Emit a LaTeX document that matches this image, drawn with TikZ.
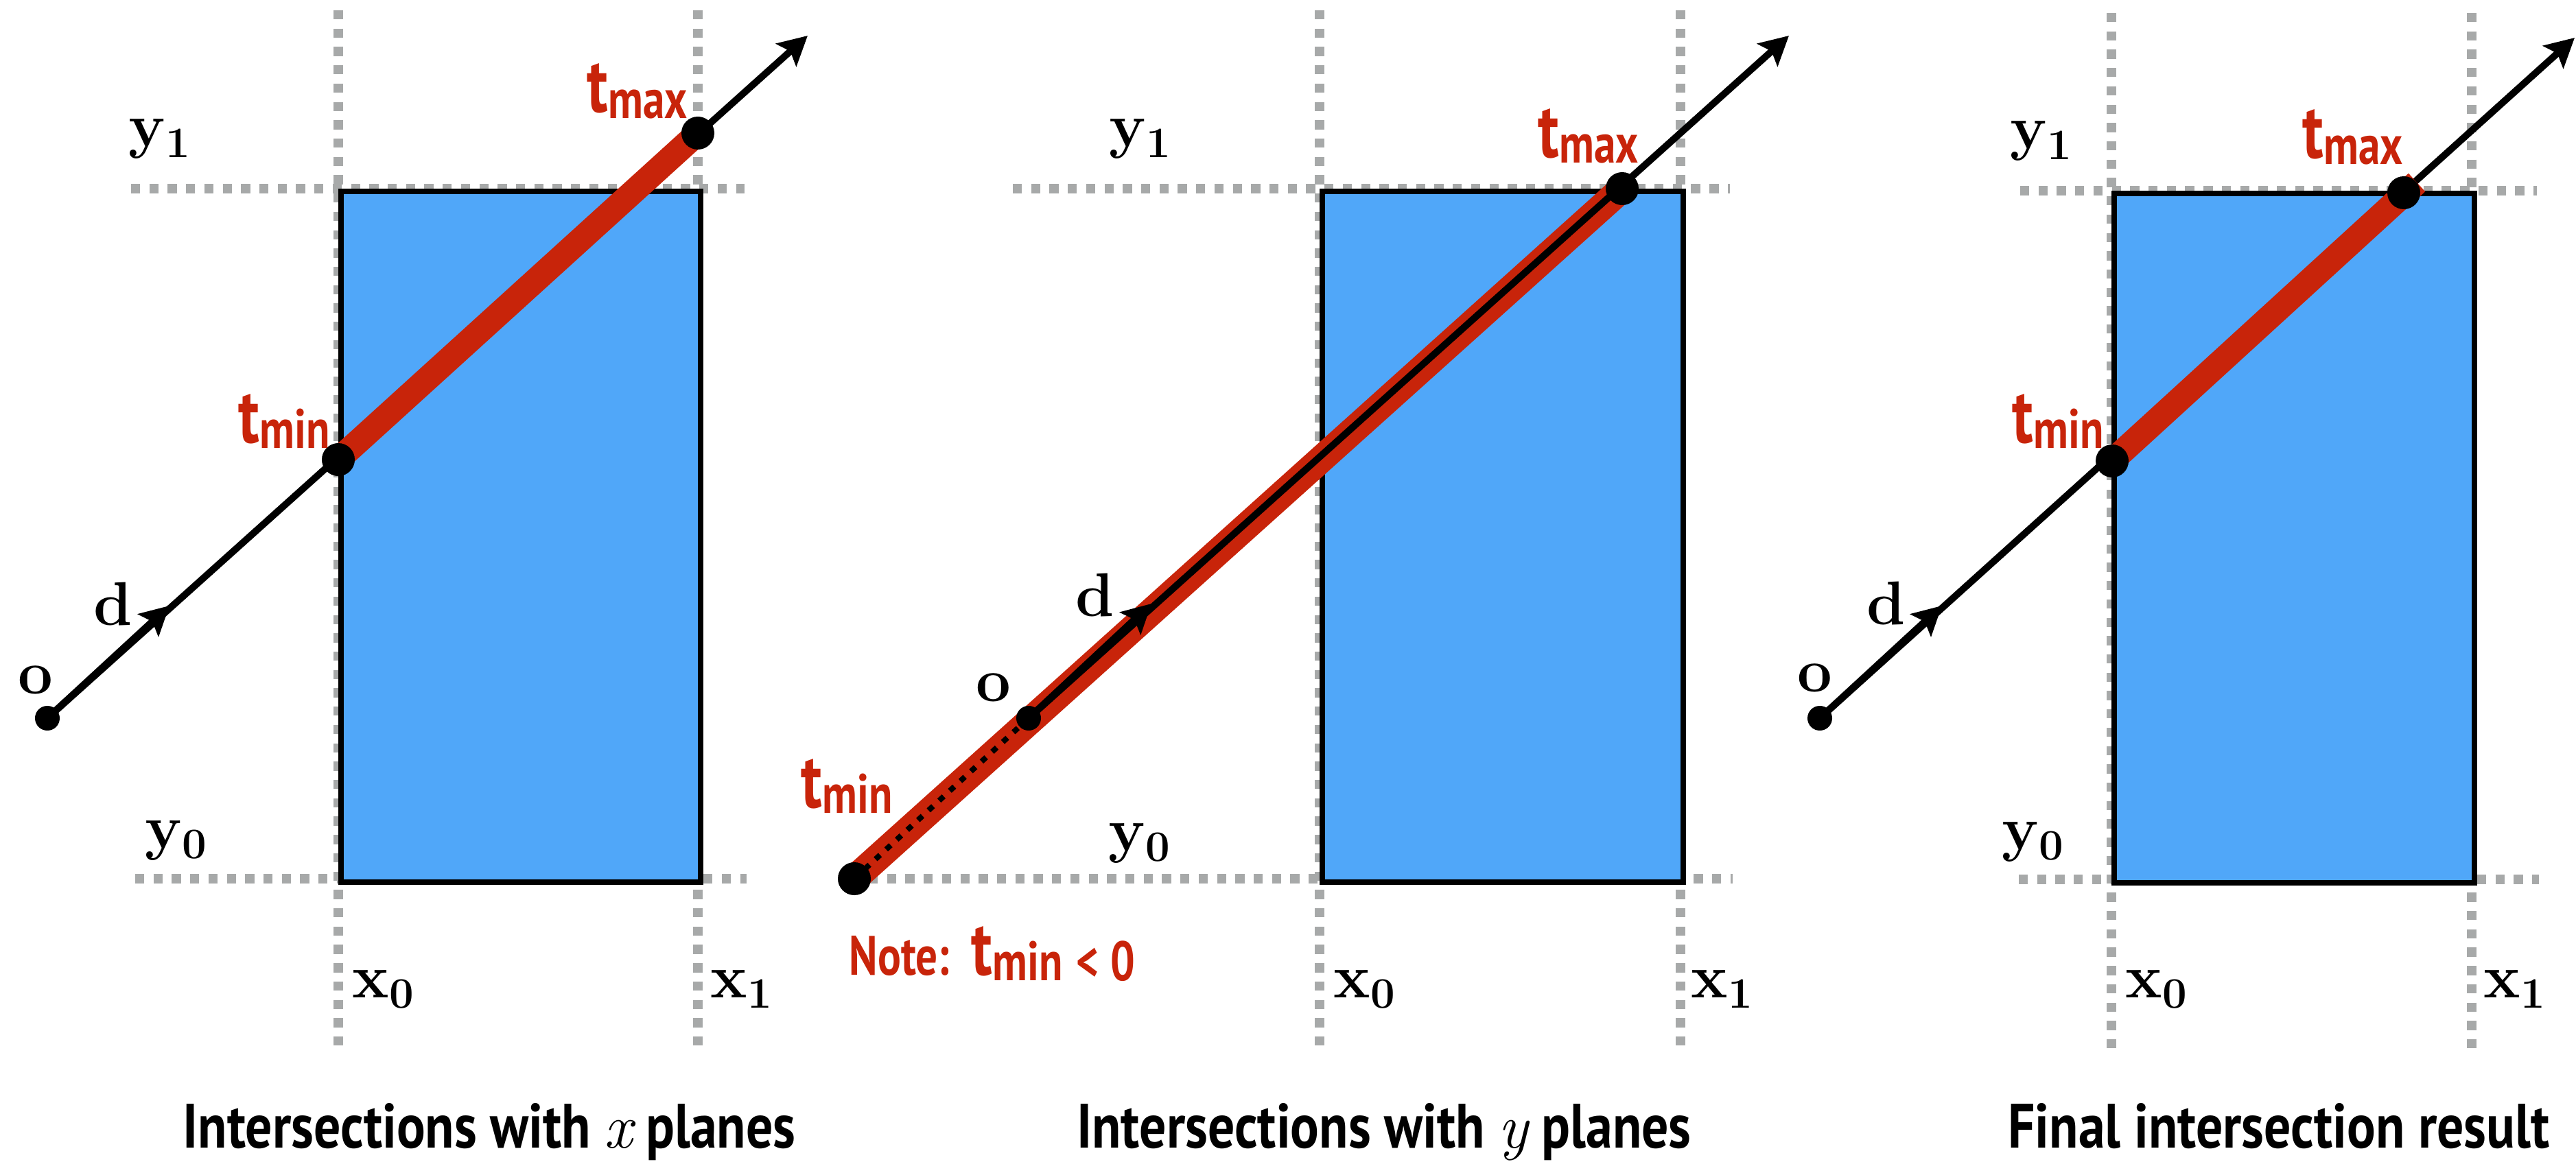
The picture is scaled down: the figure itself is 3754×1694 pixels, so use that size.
\documentclass[tikz,border=0pt]{standalone}
\usepackage{fontspec}
\usetikzlibrary{arrows.meta}
\newfontfamily\myr[FakeStretch=0.78]{PT Sans}
\newfontfamily\myt[FakeStretch=0.85]{PT Sans}
\definecolor{boxblue}{RGB}{80,167,249}
\definecolor{tred}{RGB}{200,36,10}
\definecolor{gridgray}{RGB}{167,169,169}
\newcommand\tsub[1]{{\fontsize{32pt}{32pt}\selectfont t}\raisebox{-0.08cm}{\fontsize{23pt}{23pt}\selectfont #1}}
\newcommand\sv[2]{\bfseries #1\raisebox{-0.15cm}{\fontsize{18pt}{18pt}\selectfont #2}}
\begin{document}
\begin{tikzpicture}[x=0.01cm,y=-0.01cm,
 gridline/.style={draw=gridgray,line width=0.133cm,dash pattern=on 0.133cm off 0.134cm},
 boxstyle/.style={fill=boxblue,draw=black,line width=0.08cm},
 ray/.style={draw=black,line width=0.1cm,-{Stealth[length=0.42cm,width=0.44cm,inset=0.08cm]}},
 raydots/.style={draw=black,line width=0.08cm,dash pattern=on 0.09cm off 0.12cm},
 band/.style={draw=tred,line width=0.36cm},
 bigdot/.style={circle,fill=black,inner sep=0pt,minimum size=0.48cm},
 smalldot/.style={circle,fill=black,inner sep=0pt,minimum size=0.36cm},
 serif/.style={font=\fontsize{25.6pt}{26pt}\selectfont,inner sep=0pt,anchor=base west},
 tlab/.style={text=tred,font=\myr\bfseries,inner sep=0pt,anchor=base west},
 title/.style={font=\myt\bfseries\fontsize{26pt}{26pt}\selectfont,inner sep=0pt,anchor=base}
]
\useasboundingbox (0,0) rectangle (3754,1694);

% ================= Panel 1 =================
\draw[gridline] (493,15) -- (493,1536);
\draw[gridline] (1017,15) -- (1017,1536);
\draw[gridline] (191,275) -- (1085,275);
\draw[gridline] (197,1281) -- (1088,1281);
\node[boxstyle,inner sep=0pt,minimum width=5.24cm,minimum height=10.06cm,anchor=north west] (box1) at (493,275) {};
\coordinate (o1) at (69,1047);
\coordinate (tmin1) at (493,670);
\coordinate (tmax1) at (1017,194);
\coordinate (tip1) at (1177,52);
\coordinate (dtip1) at (247,883);
\draw[ray] (o1) -- (tip1);
\draw[ray] (o1) -- (dtip1);
\draw[band] (tmin1) -- (tmax1);
\node[smalldot] (od1) at (o1) {};
\node[bigdot] (tmind1) at (tmin1) {};
\node[bigdot] (tmaxd1) at (tmax1) {};
\node[serif] (y1a) at (187,214) {\sv{y}{1}};
\node[serif] (y0a) at (211,1236) {\sv{y}{0}};
\node[serif] (x0a) at (513,1454) {\sv{x}{0}};
\node[serif] (x1a) at (1035,1454) {\sv{x}{1}};
\node[serif] (oa) at (26,1011) {\bfseries o};
\node[serif] (da) at (136,911) {\bfseries d};
\node[tlab] (tminla) at (347,645) {\tsub{min}};
\node[tlab] (tmaxla) at (855,164) {\tsub{max}};
\node[title] (title1) at (713,1673) {Intersections with {\normalfont\itshape x} planes};

% ================= Panel 2 =================
\draw[gridline] (1923,15) -- (1923,1536);
\draw[gridline] (2449,15) -- (2449,1536);
\draw[gridline] (1476,275) -- (2521,275);
\draw[gridline] (1266,1281) -- (2525,1281);
\node[boxstyle,inner sep=0pt,minimum width=5.26cm,minimum height=10.06cm,anchor=north west] (box2) at (1923,275) {};
\coordinate (tmin2) at (1245,1281);
\coordinate (o2) at (1499,1047);
\coordinate (tmax2) at (2364,275);
\coordinate (tip2) at (2607,52);
\coordinate (dtip2) at (1678,880);
\draw[band,line width=0.40cm] (tmin2) -- (tmax2);
\draw[raydots] (tmin2) -- (o2);
\draw[ray] (o2) -- (tip2);
\draw[ray] (o2) -- (dtip2);
\node[bigdot] (tmind2) at (tmin2) {};
\node[smalldot] (od2) at (o2) {};
\node[bigdot] (tmaxd2) at (tmax2) {};
\node[serif] (y1b) at (1616,214) {\sv{y}{1}};
\node[serif] (y0b) at (1615,1240) {\sv{y}{0}};
\node[serif] (x0b) at (1943,1454) {\sv{x}{0}};
\node[serif] (x1b) at (2464,1454) {\sv{x}{1}};
\node[serif] (ob) at (1422,1022) {\bfseries o};
\node[serif] (db) at (1567,898) {\bfseries d};
\node[tlab] (tminlb) at (1167,1177) {\tsub{min}};
\node[tlab] (tmaxlb) at (2241,229) {\tsub{max}};
\node[tlab] (note) at (1237,1421) {\fontsize{23pt}{23pt}\selectfont Note:\hspace{0.32cm}\tsub{min\hspace{0.2cm}<\hspace{0.17cm}0}};
\node[title] (title2) at (2017,1673) {Intersections with {\normalfont\itshape y} planes};

% ================= Panel 3 =================
\draw[gridline] (3077,19) -- (3077,1539);
\draw[gridline] (3602,19) -- (3602,1539);
\draw[gridline] (2944,278) -- (3697,278);
\draw[gridline] (2942,1282) -- (3700,1282);
\node[boxstyle,inner sep=0pt,minimum width=5.25cm,minimum height=10.04cm,anchor=north west] (box3) at (3077,278) {};
\coordinate (o3) at (2652,1047);
\coordinate (tmin3) at (3078,672);
\coordinate (tmax3) at (3503,281);
\coordinate (bandend3) at (3522,266);
\coordinate (tip3) at (3752,55);
\coordinate (dtip3) at (2830,883);
\draw[ray] (o3) -- (tip3);
\draw[ray] (o3) -- (dtip3);
\draw[band] (tmin3) -- (bandend3);
\node[smalldot] (od3) at (o3) {};
\node[bigdot] (tmind3) at (tmin3) {};
\node[bigdot] (tmaxd3) at (tmax3) {};
\node[serif] (y1c) at (2929,217) {\sv{y}{1}};
\node[serif] (y0c) at (2917,1238) {\sv{y}{0}};
\node[serif] (x0c) at (3097,1454) {\sv{x}{0}};
\node[serif] (x1c) at (3619,1454) {\sv{x}{1}};
\node[serif] (oc) at (2619,1008) {\bfseries o};
\node[serif] (dc) at (2720,910) {\bfseries d};
\node[tlab] (tminlc) at (2932,645) {\tsub{min}};
\node[tlab] (tmaxlc) at (3355,231) {\tsub{max}};
\node[title] (title3) at (3321,1673) {Final intersection result};
\end{tikzpicture}
\end{document}
